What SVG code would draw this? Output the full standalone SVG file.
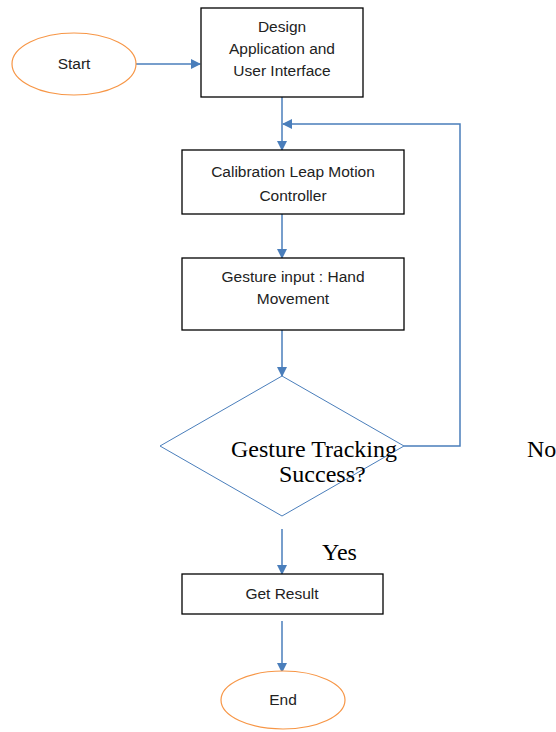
<svg xmlns="http://www.w3.org/2000/svg" width="556" height="732" viewBox="0 0 556 732">
<defs>
<style>
.box{fill:#fff;stroke:#000;stroke-width:1.3}
.term{fill:#fff;stroke:#f79646;stroke-width:1.2}
.dia{fill:#fff;stroke:#4a7ebb;stroke-width:1}
.con{fill:none;stroke:#4a7ebb;stroke-width:1.5}
.t{font-family:"Liberation Sans",Arial,sans-serif;font-size:15.5px;fill:#222;text-anchor:middle}
.s{font-family:"Liberation Serif","Times New Roman",serif;font-size:24px;fill:#000}
</style>
<marker id="ah" viewBox="0 0 10 10" refX="9" refY="5" markerWidth="10" markerHeight="10" markerUnits="userSpaceOnUse" orient="auto">
<path d="M0,0 L10,5 L0,10 z" fill="#4a7ebb"/>
</marker>
</defs>
<rect width="556" height="732" fill="#fff"/>
<g id="connectors">
<line class="con" x1="136" y1="64" x2="200" y2="64" marker-end="url(#ah)"/>
<line class="con" x1="282" y1="97" x2="282" y2="150" marker-end="url(#ah)"/>
<polyline class="con" points="404,446 460,446 460,124 283,124" marker-end="url(#ah)"/>
<line class="con" x1="282" y1="214" x2="282" y2="258" marker-end="url(#ah)"/>
<line class="con" x1="282" y1="330" x2="282" y2="376" marker-end="url(#ah)"/>
<line class="con" x1="282" y1="529" x2="282" y2="574" marker-end="url(#ah)"/>
<line class="con" x1="282" y1="621" x2="282" y2="672" marker-end="url(#ah)"/>
</g>
<g id="start">
<ellipse class="term" cx="74" cy="64" rx="62" ry="31"/>
<text class="t" x="74" y="69">Start</text>
</g>
<g id="design">
<rect class="box" x="201" y="8" width="162" height="89"/>
<text class="t" x="282" y="32">Design</text>
<text class="t" x="282" y="54">Application and</text>
<text class="t" x="282" y="76">User Interface</text>
</g>
<g id="calibration">
<rect class="box" x="182" y="150" width="222" height="64"/>
<text class="t" x="293" y="177">Calibration Leap Motion</text>
<text class="t" x="293" y="201">Controller</text>
</g>
<g id="gesture">
<rect class="box" x="182" y="258" width="222" height="72"/>
<text class="t" x="293" y="282">Gesture input : Hand</text>
<text class="t" x="293" y="304">Movement</text>
</g>
<g id="decision">
<polygon class="dia" points="282,376 404,446 282,516 160,446"/>
<text class="s" x="231" y="457">Gesture Tracking</text>
<text class="s" x="279" y="482">Success?</text>
</g>
<text class="s" x="527" y="457">No</text>
<text class="s" x="322" y="560">Yes</text>
<g id="result">
<rect class="box" x="182" y="574" width="201" height="40"/>
<text class="t" x="282" y="599">Get Result</text>
</g>
<g id="end">
<ellipse class="term" cx="283" cy="700" rx="62" ry="29"/>
<text class="t" x="283" y="705">End</text>
</g>
</svg>
